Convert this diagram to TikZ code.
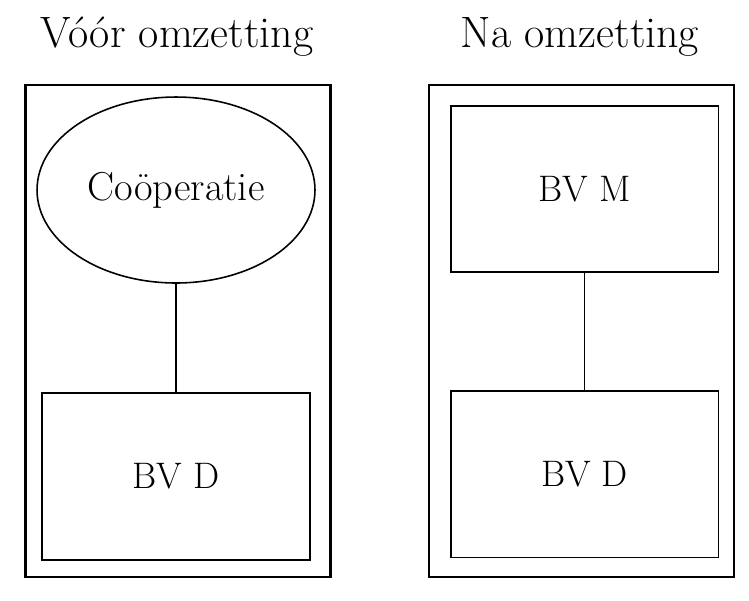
\documentclass[tikz,border=0pt]{standalone}
\usetikzlibrary{shapes.geometric}
\tikzset{
	frame/.style={draw, line width=1.6pt, minimum width=6.1cm, minimum height=9.84cm},
	entity/.style={draw, line width=1.1pt, minimum width=5.36cm, minimum height=3.34cm, font=\fontsize{21}{25}\selectfont},
	coop/.style={draw, ellipse, line width=0.9pt, minimum width=5.56cm, minimum height=3.72cm, font=\fontsize{23}{27}\selectfont},
	title/.style={font=\fontsize{25}{30}\selectfont},
}
\begin{document}
\begin{tikzpicture}[x=0.02cm, y=-0.02cm]
		\useasboundingbox (0,0) rectangle (749,600);
		% voor omzetting
		\node[title] (titleL) at (177,37) {Vóór omzetting};
		\node[frame] (frameL) at (178,331) {};
		\node[coop] (coop) at (176,190) {Coöperatie};
		\node[entity] (bvdL) at (176,476.5) {BV D};
		\draw[line width=1.1pt] (coop) -- (bvdL);
		% na omzetting
		\node[title] (titleR) at (580,37) {Na omzetting};
		\node[frame] (frameR) at (581.5,331) {};
		\node[entity, minimum height=3.32cm] (bvm) at (584.5,189) {BV M};
		\node[entity] (bvdR) at (584.5,474) {BV D};
		\draw[line width=1.1pt] (bvm) -- (bvdR);
\end{tikzpicture}
\end{document}
